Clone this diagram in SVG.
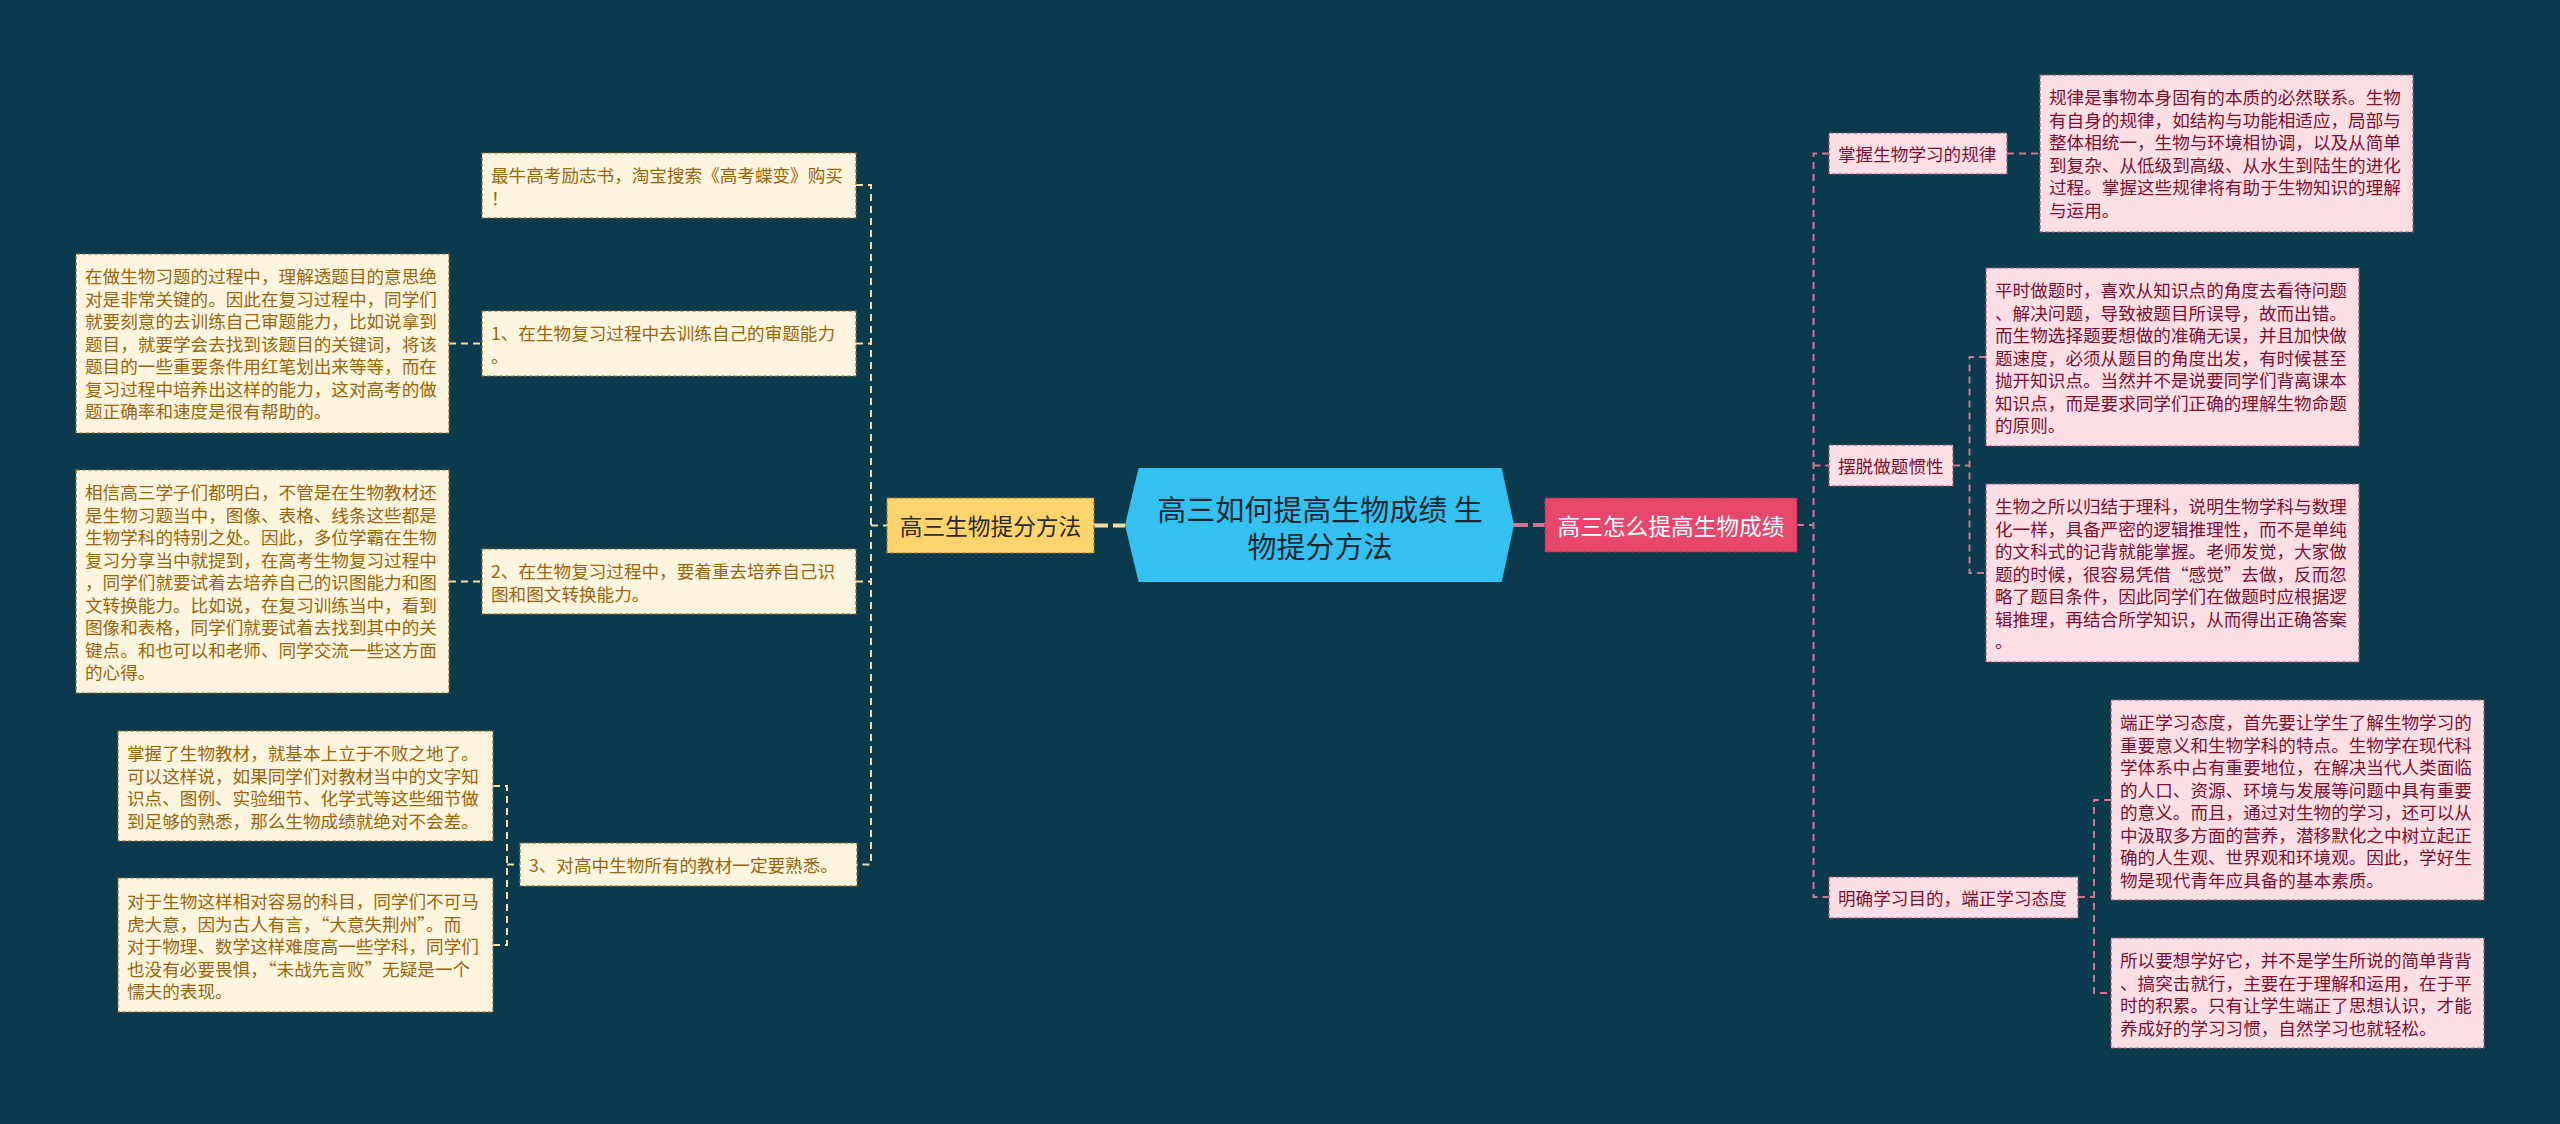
<svg xmlns="http://www.w3.org/2000/svg" width="2560" height="1124" viewBox="0 0 2560 1124">
<style>
text{font-family:"Noto Sans CJK SC","Noto Sans",sans-serif;dominant-baseline:central}
.lf rect{fill:#fdf5de;stroke:#8d6e2f;stroke-width:1.2;stroke-dasharray:4 2}
.lf text{fill:#98660c;font-size:17.6px}
.rt rect{fill:#fcdfe5;stroke:#9e5a6c;stroke-width:1.2;stroke-dasharray:4 2}
.rt text{fill:#7b1131;font-size:17.6px}
.cy{fill:none;stroke:#f0dfa0;stroke-width:2;stroke-dasharray:7 5}
.cp{fill:none;stroke:#d07590;stroke-width:2;stroke-dasharray:7 5}
.thick{stroke-width:4;stroke-dasharray:14 5}
</style>
<rect width="2560" height="1124" fill="#0c3a4d"/>
<g id="connectors">
<path class="cy" d="M856,185H871V864.5H857"/>
<path class="cy" d="M856,343.5H871"/>
<path class="cy" d="M856,581.5H871"/>
<path class="cy" d="M871,525.5H887"/>
<path class="cy" d="M449,343.5H482"/>
<path class="cy" d="M449,581.5H482"/>
<path class="cy" d="M493,786H507V945H493"/>
<path class="cy" d="M507,864.5H520"/>
<path class="cy thick" d="M1094,525.5H1125"/>
<path class="cp thick" d="M1514,525H1545"/>
<path class="cp" d="M1797,525H1813.5"/>
<path class="cp" d="M1829,153.5H1813.5V897H1829"/>
<path class="cp" d="M1813.5,465.5H1829"/>
<path class="cp" d="M2007,153.5H2040"/>
<path class="cp" d="M1953,465.5H1969.5"/>
<path class="cp" d="M1986,357H1969.5V573H1986"/>
<path class="cp" d="M2078,897H2094"/>
<path class="cp" d="M2111,800H2094V993H2111"/>
</g>
<g id="center">
<polygon points="1138.6,468 1501.7,468 1514,525 1501.7,582 1138.6,582 1125,525" fill="#33c2f0"/>
<text x="1320" y="508" text-anchor="middle" font-size="29" fill="#1a2733">高三如何提高生物成绩 生</text>
<text x="1320" y="545" text-anchor="middle" font-size="29" fill="#1a2733">物提分方法</text>
</g>
<g id="n-left-main">
<rect x="887" y="498" width="207" height="55" fill="#fdd46c" stroke="#9a7a30" stroke-width="1.2" stroke-dasharray="4 2"/>
<text x="990.5" y="525.5" text-anchor="middle" font-size="22.7" fill="#2a2a2a">高三生物提分方法</text>
</g>
<g id="n-right-main">
<rect x="1545" y="498" width="252" height="54" fill="#e8476c" stroke="#b02a4c" stroke-width="1.2" stroke-dasharray="4 2"/>
<text x="1671" y="525" text-anchor="middle" font-size="22.7" fill="#ffffff">高三怎么提高生物成绩</text>
</g>
<g id="n-ad" class="lf">
<rect x="482" y="153" width="374" height="65"/>
<text x="491" y="174.25"><tspan>最牛高考励志书，淘宝搜索《高考蝶变》购买</tspan><tspan x="491" dy="22.5">！</tspan></text>
</g>
<g id="n-l1" class="lf">
<rect x="482" y="311" width="374" height="65"/>
<text x="491" y="332.25"><tspan>1、在生物复习过程中去训练自己的审题能力</tspan><tspan x="491" dy="22.5">。</tspan></text>
</g>
<g id="n-l1d" class="lf">
<rect x="76" y="254" width="373" height="179"/>
<text x="85" y="275.25"><tspan>在做生物习题的过程中，理解透题目的意思绝</tspan><tspan x="85" dy="22.5">对是非常关键的。因此在复习过程中，同学们</tspan><tspan x="85" dy="22.5">就要刻意的去训练自己审题能力，比如说拿到</tspan><tspan x="85" dy="22.5">题目，就要学会去找到该题目的关键词，将该</tspan><tspan x="85" dy="22.5">题目的一些重要条件用红笔划出来等等，而在</tspan><tspan x="85" dy="22.5">复习过程中培养出这样的能力，这对高考的做</tspan><tspan x="85" dy="22.5">题正确率和速度是很有帮助的。</tspan></text>
</g>
<g id="n-l2" class="lf">
<rect x="482" y="549" width="374" height="65"/>
<text x="491" y="570.25"><tspan>2、在生物复习过程中，要着重去培养自己识</tspan><tspan x="491" dy="22.5">图和图文转换能力。</tspan></text>
</g>
<g id="n-l2d" class="lf">
<rect x="76" y="470" width="373" height="223"/>
<text x="85" y="491.25"><tspan>相信高三学子们都明白，不管是在生物教材还</tspan><tspan x="85" dy="22.5">是生物习题当中，图像、表格、线条这些都是</tspan><tspan x="85" dy="22.5">生物学科的特别之处。因此，多位学霸在生物</tspan><tspan x="85" dy="22.5">复习分享当中就提到，在高考生物复习过程中</tspan><tspan x="85" dy="22.5">，同学们就要试着去培养自己的识图能力和图</tspan><tspan x="85" dy="22.5">文转换能力。比如说，在复习训练当中，看到</tspan><tspan x="85" dy="22.5">图像和表格，同学们就要试着去找到其中的关</tspan><tspan x="85" dy="22.5">键点。和也可以和老师、同学交流一些这方面</tspan><tspan x="85" dy="22.5">的心得。</tspan></text>
</g>
<g id="n-l3" class="lf">
<rect x="520" y="843" width="337" height="43"/>
<text x="529" y="864.5">3、对高中生物所有的教材一定要熟悉。</text>
</g>
<g id="n-l3a" class="lf">
<rect x="118" y="731" width="375" height="110"/>
<text x="127" y="752.25"><tspan>掌握了生物教材，就基本上立于不败之地了。</tspan><tspan x="127" dy="22.5">可以这样说，如果同学们对教材当中的文字知</tspan><tspan x="127" dy="22.5">识点、图例、实验细节、化学式等这些细节做</tspan><tspan x="127" dy="22.5">到足够的熟悉，那么生物成绩就绝对不会差。</tspan></text>
</g>
<g id="n-l3b" class="lf">
<rect x="118" y="878" width="375" height="134"/>
<text x="127" y="900.25"><tspan>对于生物这样相对容易的科目，同学们不可马</tspan><tspan x="127" dy="22.5">虎大意，因为古人有言，“大意失荆州”。而</tspan><tspan x="127" dy="22.5">对于物理、数学这样难度高一些学科，同学们</tspan><tspan x="127" dy="22.5">也没有必要畏惧，“未战先言败”无疑是一个</tspan><tspan x="127" dy="22.5">懦夫的表现。</tspan></text>
</g>
<g id="n-r1" class="rt">
<rect x="1829" y="133" width="178" height="41"/>
<text x="1838" y="153.5">掌握生物学习的规律</text>
</g>
<g id="n-r1d" class="rt">
<rect x="2040" y="75" width="373" height="157"/>
<text x="2049" y="96.25"><tspan>规律是事物本身固有的本质的必然联系。生物</tspan><tspan x="2049" dy="22.5">有自身的规律，如结构与功能相适应，局部与</tspan><tspan x="2049" dy="22.5">整体相统一，生物与环境相协调，以及从简单</tspan><tspan x="2049" dy="22.5">到复杂、从低级到高级、从水生到陆生的进化</tspan><tspan x="2049" dy="22.5">过程。掌握这些规律将有助于生物知识的理解</tspan><tspan x="2049" dy="22.5">与运用。</tspan></text>
</g>
<g id="n-r2" class="rt">
<rect x="1829" y="445" width="124" height="41"/>
<text x="1838" y="465.5">摆脱做题惯性</text>
</g>
<g id="n-r2a" class="rt">
<rect x="1986" y="268" width="373" height="178"/>
<text x="1995" y="289.25"><tspan>平时做题时，喜欢从知识点的角度去看待问题</tspan><tspan x="1995" dy="22.5">、解决问题，导致被题目所误导，故而出错。</tspan><tspan x="1995" dy="22.5">而生物选择题要想做的准确无误，并且加快做</tspan><tspan x="1995" dy="22.5">题速度，必须从题目的角度出发，有时候甚至</tspan><tspan x="1995" dy="22.5">抛开知识点。当然并不是说要同学们背离课本</tspan><tspan x="1995" dy="22.5">知识点，而是要求同学们正确的理解生物命题</tspan><tspan x="1995" dy="22.5">的原则。</tspan></text>
</g>
<g id="n-r2b" class="rt">
<rect x="1986" y="484" width="373" height="178"/>
<text x="1995" y="505.25"><tspan>生物之所以归结于理科，说明生物学科与数理</tspan><tspan x="1995" dy="22.5">化一样，具备严密的逻辑推理性，而不是单纯</tspan><tspan x="1995" dy="22.5">的文科式的记背就能掌握。老师发觉，大家做</tspan><tspan x="1995" dy="22.5">题的时候，很容易凭借“感觉”去做，反而忽</tspan><tspan x="1995" dy="22.5">略了题目条件，因此同学们在做题时应根据逻</tspan><tspan x="1995" dy="22.5">辑推理，再结合所学知识，从而得出正确答案</tspan><tspan x="1995" dy="22.5">。</tspan></text>
</g>
<g id="n-r3" class="rt">
<rect x="1829" y="877" width="249" height="41"/>
<text x="1838" y="897">明确学习目的，端正学习态度</text>
</g>
<g id="n-r3a" class="rt">
<rect x="2111" y="700" width="373" height="200"/>
<text x="2120" y="721.25"><tspan>端正学习态度，首先要让学生了解生物学习的</tspan><tspan x="2120" dy="22.5">重要意义和生物学科的特点。生物学在现代科</tspan><tspan x="2120" dy="22.5">学体系中占有重要地位，在解决当代人类面临</tspan><tspan x="2120" dy="22.5">的人口、资源、环境与发展等问题中具有重要</tspan><tspan x="2120" dy="22.5">的意义。而且，通过对生物的学习，还可以从</tspan><tspan x="2120" dy="22.5">中汲取多方面的营养，潜移默化之中树立起正</tspan><tspan x="2120" dy="22.5">确的人生观、世界观和环境观。因此，学好生</tspan><tspan x="2120" dy="22.5">物是现代青年应具备的基本素质。</tspan></text>
</g>
<g id="n-r3b" class="rt">
<rect x="2111" y="938" width="373" height="110"/>
<text x="2120" y="959.25"><tspan>所以要想学好它，并不是学生所说的简单背背</tspan><tspan x="2120" dy="22.5">、搞突击就行，主要在于理解和运用，在于平</tspan><tspan x="2120" dy="22.5">时的积累。只有让学生端正了思想认识，才能</tspan><tspan x="2120" dy="22.5">养成好的学习习惯，自然学习也就轻松。</tspan></text>
</g>
</svg>
